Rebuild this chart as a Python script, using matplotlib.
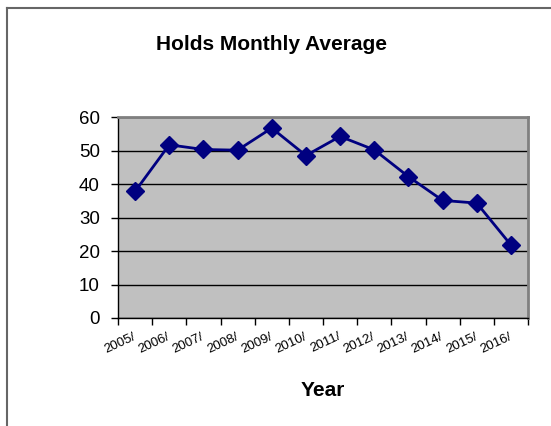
import numpy as np
import matplotlib.pyplot as plt
from matplotlib.lines import Line2D

years = ["2005/", "2006/", "2007/", "2008/", "2009/", "2010/",
         "2011/", "2012/", "2013/", "2014/", "2015/", "2016/"]
holds = [37.8, 51.7, 50.3, 50.1, 56.7, 48.5, 54.2, 50.2, 42.2, 35.1, 34.3, 21.8]
y_ticks = [0, 10, 20, 30, 40, 50, 60]

plt.rcParams['font.family'] = ['Liberation Sans', 'DejaVu Sans']

fig = plt.figure(figsize=(5.51, 4.26), dpi=100)
ax = fig.add_axes([118 / 551, 1 - 318 / 426, 410 / 551, 201 / 426])

x = np.arange(len(years))
ax.set_facecolor('#C0C0C0')
ax.plot(x, holds, color='#000080', linewidth=2, marker='D', markersize=9,
        markerfacecolor='#000080', markeredgecolor='#000080', zorder=3)

ax.set_xlim(-0.5, len(years) - 0.5)
ax.set_ylim(0, 60)
ax.set_yticks(y_ticks)
ax.yaxis.grid(True, color='black', linewidth=1)
ax.set_axisbelow(True)
ax.tick_params(axis='y', labelsize=13.5, length=5, width=1, direction='out', pad=8)

ax.set_xticks(x)
ax.set_xticklabels(years, rotation=25, ha='right', va='center',
                   rotation_mode='anchor', fontsize=9.5)
ax.tick_params(axis='x', which='major', length=0, pad=13)
ax.set_xticks(np.arange(-0.5, len(years)), minor=True)
ax.tick_params(axis='x', which='minor', length=5, width=1, direction='out')

for s in ['left', 'bottom']:
    ax.spines[s].set_color('black')
    ax.spines[s].set_linewidth(1)
for s in ['top', 'right']:
    ax.spines[s].set_color('#808080')
    ax.spines[s].set_linewidth(2)

fig.text(271 / 551, 1 - 45 / 426, "Holds Monthly Average", ha='center', va='center',
         fontsize=15, fontweight='bold')
fig.text(323 / 551, 1 - 391 / 426, "Year", ha='center', va='center',
         fontsize=15, fontweight='bold')

# chart frame (left and top edges)
fig.add_artist(Line2D([7 / 551, 7 / 551], [0, 1 - 7.5 / 426], transform=fig.transFigure,
                      color='#666666', linewidth=1.5))
fig.add_artist(Line2D([7 / 551, 1], [1 - 7.5 / 426, 1 - 7.5 / 426], transform=fig.transFigure,
                      color='#666666', linewidth=1.5))

fig.savefig("out.png", dpi=100)
